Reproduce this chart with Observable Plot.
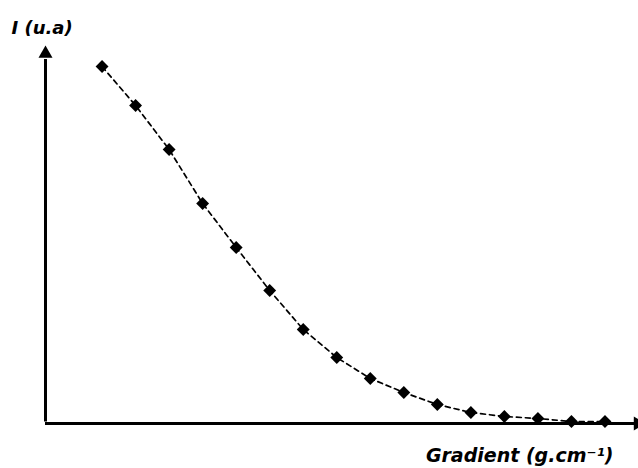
<!DOCTYPE html>
<html><head><meta charset="utf-8">
<script src="https://cdn.jsdelivr.net/npm/d3@7"></script>
<script src="https://cdn.jsdelivr.net/npm/@observablehq/plot@0.6"></script>
<style>body{margin:0;background:#fff}svg{display:block}</style>
</head><body><div id="chart"></div>
<script>
// Data (arbitrary units)
const gradient = [1, 2, 3, 4, 5, 6, 7, 8, 9, 10, 11, 12, 13, 14, 15, 16];
const intensity = [357, 318, 274, 220, 176, 133, 94, 66, 45, 31, 19, 11, 7, 5, 2, 2];
const xLabel = "Gradient (g.cm⁻¹)";
const yLabel = "I (u.a)";

const xMin = -0.687, xMax = 17.0, yMax = 378;
const data = gradient.map((g, i) => ({g, I: intensity[i]}));
const font = "'DejaVu Sans', sans-serif";

const chart = Plot.plot({
  width: 638, height: 468,
  marginLeft: 45, marginRight: 0, marginTop: 45, marginBottom: 45,
  style: {background: "white", fontFamily: font},
  x: {domain: [xMin, xMax], axis: null},
  y: {domain: [0, yMax], axis: null},
  marks: [
    Plot.ruleX([xMin], {y1: 1.5, y2: yMax - 14, stroke: "black", strokeWidth: 3}),
    Plot.ruleY([0], {x1: xMin, x2: xMax, stroke: "black", strokeWidth: 3}),
    Plot.dot([{x: xMin, y: yMax - 8.1}], {x: "x", y: "y", symbol: "triangle", r: 5.2, fill: "black", stroke: null}),
    Plot.dot([{x: xMax - 0.02, y: 0}], {x: "x", y: "y", symbol: "triangle", r: 5.2, rotate: 90, fill: "black", stroke: null}),
    Plot.line(data, {x: "g", y: "I", stroke: "black", strokeWidth: 1.7, strokeDasharray: "5,4"}),
    Plot.dot(data, {x: "g", y: "I", symbol: "diamond2", r: 5.8, fill: "black", stroke: null}),
    Plot.text([yLabel], {frameAnchor: "top-left", textAnchor: "start", lineAnchor: "middle", dx: -34, dy: -17.6,
      fontSize: 18, fontWeight: "bold", fontStyle: "italic", fill: "black"}),
    Plot.text([xLabel], {frameAnchor: "bottom-right", textAnchor: "end", lineAnchor: "middle", dx: -25, dy: 32,
      fontSize: 19, fontWeight: "bold", fontStyle: "italic", fill: "black"})
  ]
});
document.getElementById("chart").append(chart);
</script>
</body></html>
